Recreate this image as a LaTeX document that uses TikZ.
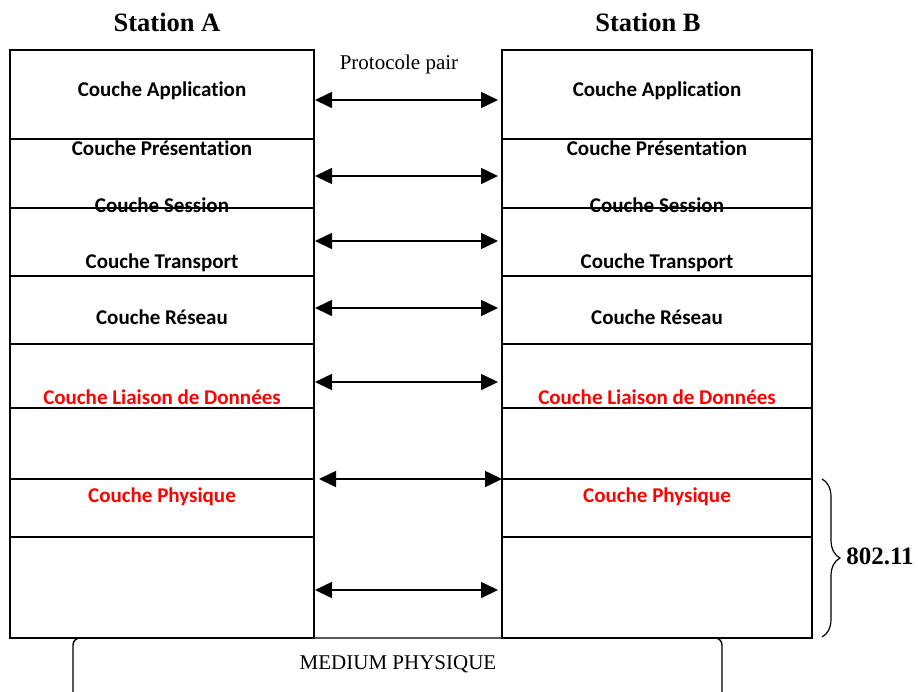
\documentclass[tikz,border=0pt]{standalone}
\usepackage{fontspec}
\setmainfont{Liberation Serif}
\newfontfamily\layerfont[Ligatures=NoCommon]{Carlito}
\usetikzlibrary{arrows.meta,decorations.pathreplacing}

\begin{document}
\begin{tikzpicture}[x=1pt,y=-1pt,
  cell/.style={draw, line width=1.4pt, inner sep=0pt, outer sep=0pt, anchor=north west},
  layer/.style={font=\layerfont\bfseries\fontsize{21}{21}\selectfont, inner sep=0pt},
  peer/.style={{Triangle[length=17pt,width=16pt]}-{Triangle[length=17pt,width=16pt]}, line width=1.6pt},
  title/.style={font=\bfseries\fontsize{26.5}{27}\selectfont, inner sep=0pt},
  plain/.style={font=\fontsize{21}{21}\selectfont, inner sep=0pt}
]
\useasboundingbox (0,0) rectangle (918,691);

% protocol stacks of the two stations
\foreach \t/\h [count=\i] in {50/89,139/69,208/68,276/68,344/64,408/71,479/58,537/101} {
  \node[cell, minimum width=304pt, minimum height=\h pt] (a\i) at (10,\t) {};
  \node[cell, minimum width=310pt, minimum height=\h pt] (b\i) at (502,\t) {};
}

% station titles
\node[title] (titleA) at (167,22) {Station A};
\node[title] (titleB) at (648,22) {Station B};

% layer names
\foreach \y/\txt/\col [count=\i] in {
    90.5/Couche Application/black,
    148/Couche Présentation/black,
    205/Couche Session/black,
    262.5/Couche Transport/black,
    317.5/Couche Réseau/black,
    397.5/Couche Liaison de Données/red,
    496.5/Couche Physique/red} {
  \node[layer, text=\col] (la\i) at (162,\y) {\txt};
  \node[layer, text=\col] (lb\i) at (657,\y) {\txt};
}

% peer-to-peer protocol arrows
\node[plain] (peerlabel) at (399,64) {Protocole pair};
\foreach \y/\l/\r [count=\i] in {100/315/498,176/315/498,241/315/498,308/315/498,382/315/498,479/319/502,590/315/498} {
  \coordinate (pl\i) at (\l,\y);
  \coordinate (pr\i) at (\r,\y);
  \draw[peer] (pl\i) -- (pr\i);
}

% physical medium
\node[cell, rounded corners=7pt, minimum width=649pt, minimum height=70pt] (medium) at (73,638) {};
\node[plain] (mediumlabel) at (398,664) {MEDIUM PHYSIQUE};

% 802.11 scope brace
\coordinate (braceTop) at (822,479);
\coordinate (braceBot) at (822,637);
\draw[decorate, decoration={brace, amplitude=18pt}, line width=1.2pt] (braceTop) -- (braceBot);
\node[title, font=\bfseries\fontsize{25}{25}\selectfont] (std) at (880,556) {802.11};
\end{tikzpicture}
\end{document}
